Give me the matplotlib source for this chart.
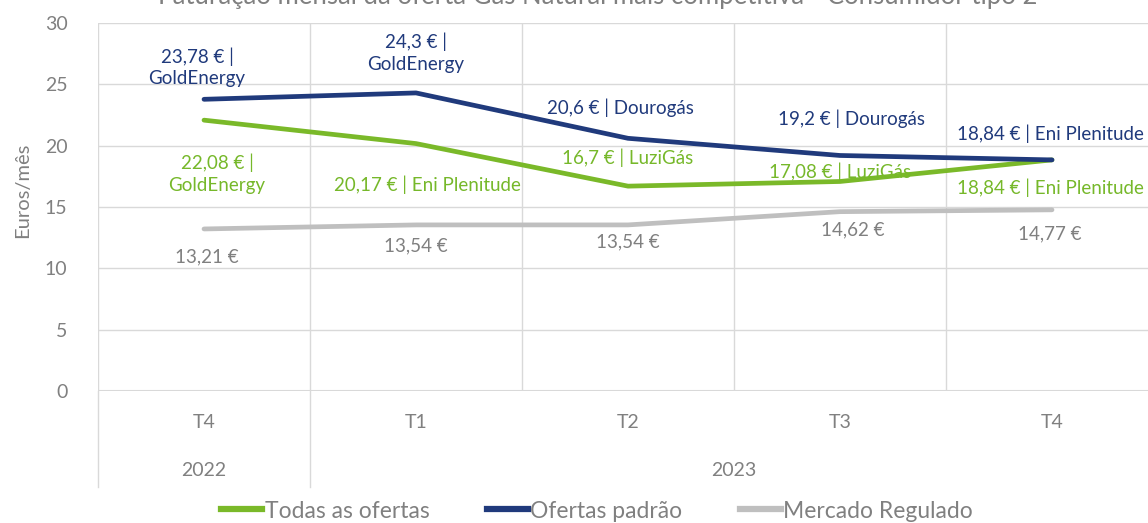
import matplotlib.pyplot as plt
from matplotlib.lines import Line2D

# ----------------------------
# DATA
# ----------------------------
quarters = ["T4", "T1", "T2", "T3", "T4"]
years = ["2022", "2023"]
year_spans = [(0, 0), (1, 4)]

todas = [22.08, 20.17, 16.7, 17.08, 18.84]
padrao = [23.78, 24.3, 20.6, 19.2, 18.84]
regulado = [13.21, 13.54, 13.54, 14.62, 14.77]

todas_labels = ["22,08 € |\nGoldEnergy", "20,17 € | Eni Plenitude", "16,7 € | LuziGás",
                "17,08 € | LuziGás", "18,84 € | Eni Plenitude"]
padrao_labels = ["23,78 € |\nGoldEnergy", "24,3 € |\nGoldEnergy", "20,6 € | Dourogás",
                 "19,2 € | Dourogás", "18,84 € | Eni Plenitude"]
regulado_labels = ["13,21 €", "13,54 €", "13,54 €", "14,62 €", "14,77 €"]

title = "Faturação mensal da oferta Gás Natural mais competitiva - Consumidor tipo 2"

# ----------------------------
# STYLE
# ----------------------------
GREEN = "#7AB929"
GREEN_TXT = "#76B82A"
NAVY = "#203A7C"
GRAY_LINE = "#BFBFBF"
GRAY_TXT = "#808080"
GRID = "#D9D9D9"

plt.rcParams['font.family'] = ['Lato', 'DejaVu Sans']

W, H = 1148, 523
fig = plt.figure(figsize=(W / 100, H / 100), dpi=100)
ax = fig.add_axes([98 / W, 1 - 391 / H, 1060 / W, 368 / H])

x = list(range(len(quarters)))
ax.plot(x, todas, color=GREEN, lw=3.4, solid_capstyle='round', zorder=3)
ax.plot(x, padrao, color=NAVY, lw=3.4, solid_capstyle='round', zorder=3)
ax.plot(x, regulado, color=GRAY_LINE, lw=3.4, solid_capstyle='round', zorder=3)

ax.set_xlim(-0.5, len(quarters) - 0.5)
ax.set_ylim(0, 30)
ax.set_yticks(range(0, 31, 5))
ax.set_xticks([])
for b in [i - 0.5 for i in range(len(quarters) + 1)]:
    ax.axvline(b, color=GRID, lw=1, zorder=1)
for yv in range(5, 31, 5):
    ax.axhline(yv, color=GRID, lw=1, zorder=1)
for s in ax.spines.values():
    s.set_visible(False)
ax.axhline(0, color=GRID, lw=1.5, zorder=2)
ax.tick_params(axis='y', length=0, pad=22, labelsize=14, labelcolor=GRAY_TXT)
ax.set_ylabel("Euros/mês", fontsize=14.5, color=GRAY_TXT)
ax.yaxis.set_label_coords(-0.063, 0.545)

# ----------------------------
# DATA LABELS (pixel offsets from points)
# ----------------------------
fs = 13.5
padrao_off = [(-7, 32), (0, 40), (-8, 31), (11, 37), (-2, 26)]
todas_off = [(13, -54), (11, -41), (0, 28), (0, 10), (-2, -28)]
regulado_off = [(3, -28), (0, -21), (0, -17), (13, -18), (-2, -24)]

for i in x:
    ax.annotate(padrao_labels[i], (i, padrao[i]), xytext=padrao_off[i], textcoords="offset pixels",
                ha='center', va='center', color=NAVY, fontsize=fs, linespacing=1.35,
                annotation_clip=False)
    ax.annotate(todas_labels[i], (i, todas[i]), xytext=todas_off[i], textcoords="offset pixels",
                ha='center', va='center', color=GREEN_TXT, fontsize=fs, linespacing=1.35,
                annotation_clip=False)
    ax.annotate(regulado_labels[i], (i, regulado[i]), xytext=regulado_off[i], textcoords="offset pixels",
                ha='center', va='center', color=GRAY_TXT, fontsize=fs, annotation_clip=False)

# ----------------------------
# CATEGORY AXIS (quarters + years)
# ----------------------------
trans = ax.get_xaxis_transform()
for i, q in enumerate(quarters):
    ax.text(i, -32 / 368, q, transform=trans, ha='center', va='center',
            fontsize=14, color=GRAY_TXT)
for yr, (a, b) in zip(years, year_spans):
    ax.text((a + b) / 2, -80 / 368, yr, transform=trans, ha='center', va='center',
            fontsize=14, color=GRAY_TXT)
    ax.plot([a - 0.5, a - 0.5], [0, -96 / 368], transform=trans, color=GRID, lw=1,
            clip_on=False)

# ----------------------------
# TITLE (clipped at top, as in the source) + LEGEND
# ----------------------------
fig.text(598 / W, 1 - 4 / H, title, ha='center', va='baseline', fontsize=18.5, color=GRAY_TXT)

handles = [Line2D([], [], color=GREEN, lw=4.5),
           Line2D([], [], color=NAVY, lw=4.5),
           Line2D([], [], color=GRAY_LINE, lw=4.5)]
fig.legend(handles, ["Todas as ofertas", "Ofertas padrão", "Mercado Regulado"],
           loc='center', bbox_to_anchor=(597 / W, 1 - 511 / H), ncol=3, frameon=False,
           fontsize=16.5, handlelength=1.8, handletextpad=0.1, columnspacing=2.5,
           labelcolor=GRAY_TXT)

fig.savefig("out.png", dpi=100)
